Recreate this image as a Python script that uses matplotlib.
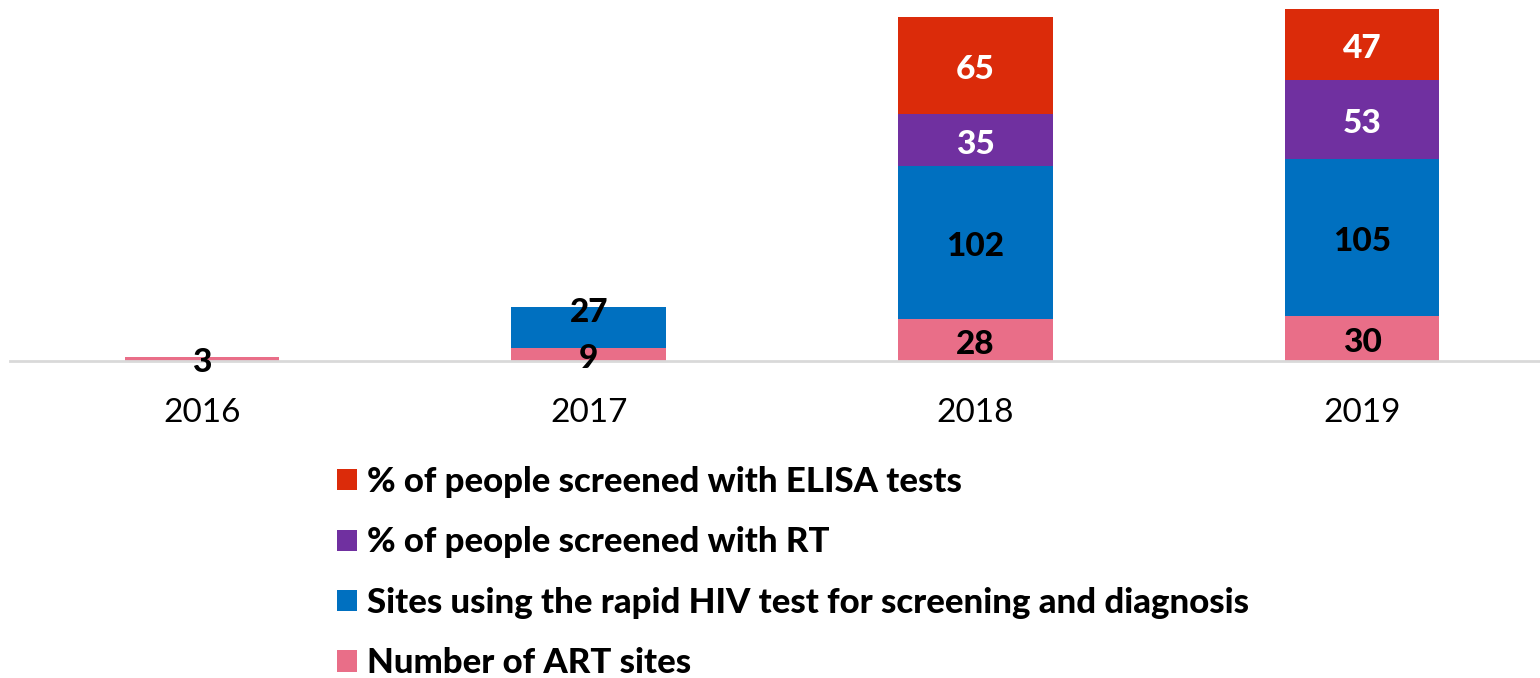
import matplotlib
matplotlib.use("Agg")
import matplotlib.pyplot as plt
from matplotlib.patches import Patch
import numpy as np

plt.rcParams['font.family'] = ['Lato', 'DejaVu Sans']

years = ["2016", "2017", "2018", "2019"]
art_sites = [3, 9, 28, 30]
rapid_sites = [0, 27, 102, 105]
pct_rt = [0, 0, 35, 53]
pct_elisa = [0, 0, 65, 47]

series = [
    ("Number of ART sites", art_sites, "#E96E88", "black"),
    ("Sites using the rapid HIV test for screening and diagnosis", rapid_sites, "#0070C0", "black"),
    ("% of people screened with RT", pct_rt, "#7030A0", "white"),
    ("% of people screened with ELISA tests", pct_elisa, "#DB2B0A", "white"),
]

W, H = 1540, 678
fig = plt.figure(figsize=(W / 100, H / 100), dpi=100)
px_per_unit = 1.497
ax_left, ax_right = 10, 1540
base_y, top_y = 361, 2
ax = fig.add_axes([ax_left / W, (H - base_y) / H, (ax_right - ax_left) / W, (base_y - top_y) / H])

x = np.arange(len(years))
bottom = np.zeros(len(years))
handles = []
for si, (name, vals, color, tcolor) in enumerate(series):
    vals = np.array(vals, dtype=float)
    ax.bar(x, vals, width=0.4, bottom=bottom, color=color, linewidth=0)
    handles.append(Patch(facecolor=color, label=name))
    for i, v in enumerate(vals):
        if v <= 0:
            continue
        yc = bottom[i] + v / 2
        dy = -3
        # Excel nudged the small 2017 rapid-test label upward
        if si == 1 and v < 30:
            dy = 11
        ax.annotate(f"{int(v)}", (x[i], yc), xytext=(0, dy), textcoords="offset points",
                    ha="center", va="center", fontsize=24, fontweight="black", color=tcolor)
    bottom += vals

ax.set_xlim(-(202 - ax_left) / 386.7, 3 + (ax_right - 1362) / 386.7)
ax.set_ylim(0, (base_y - top_y) / px_per_unit)
for s in ["top", "right", "left"]:
    ax.spines[s].set_visible(False)
ax.spines["bottom"].set_color("#D9D9D9")
ax.spines["bottom"].set_linewidth(2)
ax.set_yticks([])
ax.set_xticks(x)
ax.set_xticklabels(years, fontsize=24)
ax.tick_params(axis="x", length=0, pad=27)

leg = fig.legend(handles=handles[::-1], loc="upper left", bbox_to_anchor=(337 / W, 1 - 466 / H),
                 frameon=False, prop={"size": 25, "weight": "black"},
                 handlelength=0.57, handleheight=0.57, handletextpad=0.29, labelspacing=0.82,
                 borderaxespad=0, borderpad=0)

fig.savefig("out.png", dpi=100)
